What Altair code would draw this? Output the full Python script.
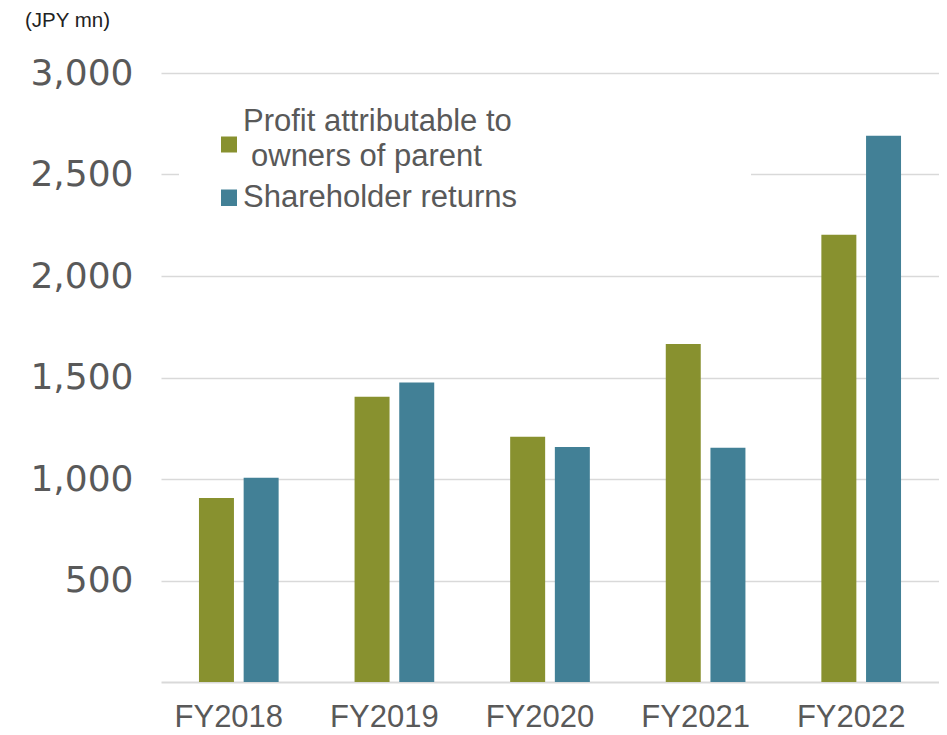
import altair as alt
import pandas as pd

years = ["FY2018", "FY2019", "FY2020", "FY2021", "FY2022"]
series = ["Profit attributable to owners of parent", "Shareholder returns"]
legend_lines = ["Profit attributable to", "owners of parent", "Shareholder returns"]
profit = [906, 1405, 1208, 1665, 2203]
returns = [1006, 1475, 1158, 1154, 2691]
colors = ["#88912f", "#428096"]
y_ticks = [500, 1000, 1500, 2000, 2500, 3000]

rows = []
for i, y in enumerate(years):
    rows.append({"year": y, "series": series[0], "value": profit[i]})
    rows.append({"year": y, "series": series[1], "value": returns[i]})
df = pd.DataFrame(rows)
df_years = pd.DataFrame({"year": years})

W, H = 778, 609
one = alt.Data(values=[{}])
TXT = dict(font="Liberation Sans", fontSize=31, color="#595959",
           align="left", baseline="alphabetic")

x_enc = alt.X("year:N", sort=years, title=None,
              scale=alt.Scale(paddingInner=0.488, paddingOuter=0.244),
              axis=alt.Axis(labels=False, ticks=False, domain=True,
                            domainColor="#d9d9d9", domainWidth=2))

# white box behind the legend (hides the gridline there)
mask = alt.Chart(one).mark_rect(color="white").encode(
    x=alt.value(18), x2=alt.value(590), y=alt.value(11), y2=alt.value(196)
)

unit = alt.Chart(one).mark_text(
    text="(JPY mn)", align="left", baseline="alphabetic",
    font="Liberation Sans", fontSize=20.5, color="#222222"
).encode(x=alt.value(-136), y=alt.value(-46.5))

bars = alt.Chart(df).mark_bar().encode(
    x=x_enc,
    xOffset=alt.XOffset("series:N", sort=series,
                        scale=alt.Scale(paddingInner=0.217, paddingOuter=0)),
    y=alt.Y("value:Q", title=None,
            scale=alt.Scale(domain=[0, 3000], nice=False),
            axis=alt.Axis(values=y_ticks, ticks=False, domain=False,
                          gridColor="#d9d9d9", gridWidth=1.5,
                          labelFont="DejaVu Sans", labelFontSize=36,
                          labelColor="#595959", labelPadding=28,
                          format=",.0f")),
    color=alt.Color("series:N", sort=series,
                    scale=alt.Scale(domain=series, range=colors),
                    legend=None),
)

# category labels under the bars (slightly left of centre, as in the original)
xlabels = alt.Chart(df_years).mark_text(
    font="Liberation Sans", fontSize=31, color="#595959",
    align="center", baseline="alphabetic", dx=-10
).encode(x=alt.X("year:N", sort=years), y=alt.value(654), text="year:N")

# legend, drawn by hand
sw1 = alt.Chart(one).mark_rect(color=colors[0]).encode(
    x=alt.value(60), x2=alt.value(76), y=alt.value(63.5), y2=alt.value(79.5))
sw2 = alt.Chart(one).mark_rect(color=colors[1]).encode(
    x=alt.value(60), x2=alt.value(76), y=alt.value(116.5), y2=alt.value(133))
t1 = alt.Chart(one).mark_text(text=legend_lines[0], **TXT).encode(
    x=alt.value(82), y=alt.value(57.5))
t2 = alt.Chart(one).mark_text(text=legend_lines[1], **TXT).encode(
    x=alt.value(90), y=alt.value(92.5))
t3 = alt.Chart(one).mark_text(text=legend_lines[2], **TXT).encode(
    x=alt.value(82), y=alt.value(133.5))

chart = alt.layer(mask, bars, xlabels, unit, sw1, sw2, t1, t2, t3).properties(
    width=W, height=H,
    padding={"left": 153, "top": 65, "right": 0, "bottom": 54},
    autosize=alt.AutoSizeParams(type="none"),
).configure_view(stroke=None)

chart.save("out.html", embed_options={"renderer": "svg", "actions": False})
